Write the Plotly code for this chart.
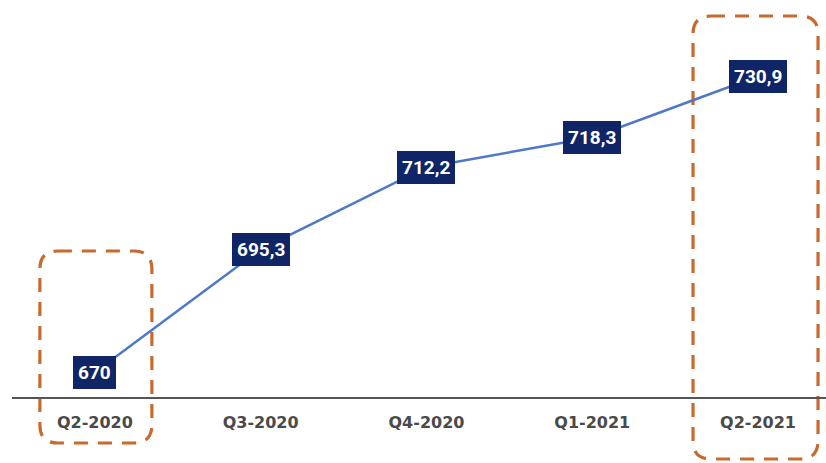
import plotly.graph_objects as go

categories = ["Q2-2020", "Q3-2020", "Q4-2020", "Q1-2021", "Q2-2021"]
values = [670, 695.3, 712.2, 718.3, 730.9]
labels = ["670", "695,3", "712,2", "718,3", "730,9"]
highlight = [0, 4]

W, H = 826, 463
ML, MR, MT, MB = 12, 0, 0, 66
XR = [-0.5, 4.41]
plot_w = W - ML - MR
plot_h = H - MT - MB
px_per_x = plot_w / (XR[1] - XR[0])

xs = list(range(len(categories)))

fig = go.Figure()
fig.add_trace(go.Scatter(
    x=xs, y=values, mode="lines",
    line=dict(color="#4f78c8", width=2.5),
    hoverinfo="skip", showlegend=False,
))

for x, v, t in zip(xs, values, labels):
    fig.add_annotation(
        x=x, y=v, text="<b>%s</b>" % t, showarrow=False,
        font=dict(family="Roboto", size=19, color="white"),
        bgcolor="#0f2566", bordercolor="#0f2566", borderwidth=2, borderpad=3,
    )


def rounded_box(idx, dx0, dx1, py0, py1, r):
    def X(px):
        return idx + px / px_per_x

    def Y(py):
        return (MT + plot_h - py) / plot_h

    x0, x1 = dx0, dx1
    p = []
    p.append("M %f,%f" % (X(x0 + r), Y(py0)))
    p.append("L %f,%f" % (X(x1 - r), Y(py0)))
    p.append("Q %f,%f %f,%f" % (X(x1), Y(py0), X(x1), Y(py0 + r)))
    p.append("L %f,%f" % (X(x1), Y(py1 - r)))
    p.append("Q %f,%f %f,%f" % (X(x1), Y(py1), X(x1 - r), Y(py1)))
    p.append("L %f,%f" % (X(x0 + r), Y(py1)))
    p.append("Q %f,%f %f,%f" % (X(x0), Y(py1), X(x0), Y(py1 - r)))
    p.append("L %f,%f" % (X(x0), Y(py0 + r)))
    p.append("Q %f,%f %f,%f" % (X(x0), Y(py0), X(x0 + r), Y(py0)))
    p.append("Z")
    return " ".join(p)


boxes = [(highlight[0], -55, 57, 251, 443), (highlight[1], -65, 60, 16, 459)]
for idx, a, b, c, d in boxes:
    fig.add_shape(
        type="path", path=rounded_box(idx, a, b, c, d, 18),
        xref="x", yref="paper",
        line=dict(color="#c8692e", width=3.2, dash="14px,10px"),
        layer="below",
    )

fig.update_layout(
    width=W, height=H,
    margin=dict(l=ML, r=MR, t=MT, b=MB),
    paper_bgcolor="white", plot_bgcolor="white",
    xaxis=dict(
        range=XR, tickmode="array", tickvals=xs,
        ticktext=["<b>%s</b>" % c for c in categories],
        tickfont=dict(family="DejaVu Sans", size=16, color="#4a4a4a"),
        showgrid=False, zeroline=False, showline=True,
        linecolor="#555555", linewidth=1.5, ticks="", ticklabelstandoff=10,
    ),
    yaxis=dict(range=[664.9, 746.6], visible=False, showgrid=False),
)

fig.write_html("out.html")
